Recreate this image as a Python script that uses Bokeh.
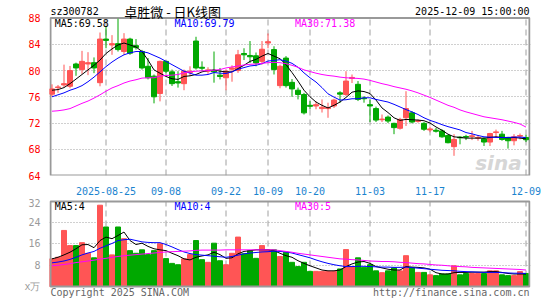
from bokeh.plotting import figure
from bokeh.layouts import column
from bokeh.models import FixedTicker, Label, ColumnDataSource, Range1d, Grid
from bokeh.embed import file_html
from bokeh.resources import INLINE

# ---------------- data ----------------
code = "sz300782"
title = "卓胜微 - 日K线图"
stamp = "2025-12-09 15:00:00"

tick_idx = [9, 19, 29, 36, 43, 53, 63, 79]
tick_labels = ["2025-08-25", "09-08", "09-22", "10-09", "10-20", "11-03", "11-17", "12-09"]
price_ticks = [64, 68, 72, 76, 80, 84, 88]
vol_ticks = [0, 8, 16, 24, 32]
vol_tick_labels = ["x万", "8", "16", "24", "32"]

opens = [76.4, 77.4, 77.8, 77.6, 81.0, 80.15, 81.0, 81.2, 78.15, 84.8,
         83.9, 84.1, 82.9, 84.8, 83.8, 82.9, 80.65, 79.15, 76.5, 81.4,
         79.8, 78.3, 78.0, 79.7, 84.5, 80.5, 79.9, 80.0, 79.3, 78.9,
         80.2, 80.0, 82.6, 82.3, 82.25, 81.4, 84.2, 83.2, 77.7, 81.9,
         78.2, 77.0, 76.35, 74.7, 74.6, 74.2, 74.2, 74.6, 76.6, 76.35,
         78.8, 77.9, 75.8, 74.8, 74.2, 72.5, 72.9, 71.95, 71.2, 72.8,
         73.55, 72.25, 71.95, 70.95, 70.9, 70.8, 70.1, 68.4, 69.85, 69.95,
         69.95, 69.7, 69.6, 69.1, 70.55, 70.3, 69.8, 69.3, 70.0, 69.8]
highs = [77.9, 77.8, 80.9, 80.7, 81.2, 83.0, 82.8, 82.0, 85.8, 86.8,
         85.4, 87.9, 85.7, 85.0, 84.8, 83.15, 81.9, 79.4, 81.5, 81.5,
         80.15, 79.9, 80.15, 80.65, 85.15, 81.4, 80.5, 82.9, 80.4, 80.15,
         80.8, 83.15, 83.4, 84.5, 82.75, 84.5, 85.65, 83.7, 80.9, 82.2,
         78.7, 77.4, 76.6, 75.35, 75.3, 75.6, 75.1, 75.7, 76.85, 79.9,
         79.4, 78.4, 76.1, 75.6, 74.5, 73.3, 73.15, 72.05, 72.8, 76.85,
         73.8, 72.55, 72.15, 71.45, 71.25, 71.05, 70.25, 70.3, 70.0, 70.2,
         70.8, 70.15, 69.8, 70.5, 71.0, 70.8, 69.9, 70.3, 70.4, 70.2]
lows = [76.0, 76.6, 77.5, 77.3, 79.2, 79.5, 79.3, 79.6, 77.6, 83.4,
        82.4, 82.9, 82.4, 82.4, 83.2, 80.15, 78.65, 75.0, 75.3, 79.6,
        77.65, 77.4, 77.0, 79.15, 80.15, 79.9, 79.5, 78.15, 78.65, 77.0,
        78.3, 79.65, 81.6, 81.15, 80.65, 80.9, 83.4, 79.4, 77.3, 77.4,
        76.0, 75.6, 73.3, 74.1, 74.1, 73.6, 72.8, 74.3, 75.1, 76.1,
        78.1, 75.35, 75.1, 72.15, 72.15, 72.15, 72.0, 70.3, 71.0, 71.55,
        71.95, 72.05, 70.8, 70.6, 70.55, 69.75, 68.9, 67.0, 68.75, 69.4,
        69.4, 69.3, 68.5, 68.5, 69.8, 69.3, 68.1, 68.6, 69.5, 69.1]
closes = [77.2, 77.5, 78.0, 80.0, 80.4, 81.4, 81.2, 80.4, 84.8, 84.6,
          84.1, 83.2, 84.8, 82.65, 83.5, 80.4, 78.9, 76.0, 81.4, 79.9,
          78.0, 78.1, 79.9, 79.9, 80.4, 80.35, 80.1, 79.8, 79.1, 79.9,
          80.4, 82.4, 82.4, 82.1, 81.15, 83.25, 84.4, 80.15, 80.65, 77.7,
          77.2, 76.35, 73.55, 74.55, 74.8, 74.4, 74.35, 75.5, 76.4, 78.4,
          78.95, 75.6, 75.7, 74.6, 72.45, 72.6, 72.3, 71.3, 72.55, 74.2,
          72.15, 72.35, 71.05, 71.1, 70.75, 69.9, 69.0, 69.5, 69.75, 69.85,
          70.05, 69.8, 69.1, 70.4, 70.65, 69.5, 69.3, 69.9, 70.1, 69.45]
volumes = [10.4, 11.0, 21.1, 15.4, 15.4, 16.5, 12.5, 10.8, 30.6, 22.4,
           11.9, 22.4, 18.0, 13.5, 12.5, 13.8, 12.0, 13.5, 16.1, 10.5,
           8.7, 8.2, 10.4, 12.0, 17.3, 10.1, 9.1, 16.3, 9.7, 8.2,
           12.5, 18.6, 12.3, 13.5, 10.6, 15.4, 13.8, 13.8, 11.3, 12.9,
           9.1, 7.5, 9.1, 5.7, 5.7, 5.7, 5.7, 5.7, 6.6, 13.9,
           7.5, 10.8, 7.2, 8.2, 5.9, 5.2, 5.9, 7.0, 5.9, 11.6,
           7.0, 5.3, 5.3, 4.4, 4.1, 4.7, 4.7, 7.8, 4.4, 4.9,
           4.9, 4.9, 4.9, 5.9, 5.9, 4.4, 4.1, 4.1, 5.6, 4.9]
ma5 = [77.0, 77.1, 77.4, 78.0, 78.7, 79.4, 80.1, 80.8, 81.6, 82.6,
       83.3, 83.9, 84.2, 83.9, 83.6, 82.9, 81.6, 80.1, 79.6, 79.1,
       78.75, 78.65, 79.1, 79.2, 79.4, 79.8, 80.0, 80.1, 79.9, 79.8,
       79.8, 80.3, 80.8, 81.4, 81.7, 82.2, 82.6, 82.2, 81.8, 80.9,
       79.7, 78.4, 77.0, 76.0, 75.2, 74.7, 74.3, 74.7, 75.2, 75.9,
       76.7, 76.9, 76.8, 76.5, 75.5, 74.3, 73.6, 72.8, 72.4, 72.55,
       72.5, 72.45, 72.35, 72.0, 71.4, 70.9, 70.3, 69.9, 69.8, 69.7,
       69.7, 69.7, 69.7, 69.8, 69.9, 69.8, 69.75, 69.8, 69.7, 69.58]
ma10 = [76.0, 76.3, 76.6, 77.0, 77.3, 77.7, 78.3, 79.0, 79.8, 80.6,
        81.3, 81.9, 82.4, 82.7, 82.9, 82.9, 82.7, 82.3, 81.9, 81.4,
        80.9, 80.4, 79.9, 79.6, 79.3, 79.3, 79.4, 79.7, 79.6, 79.55,
        79.8, 80.2, 80.45, 80.7, 80.8, 81.05, 81.45, 81.55, 81.65, 81.45,
        81.1, 80.5, 79.65, 78.9, 78.25, 77.4, 76.45, 75.95, 75.5, 75.55,
        75.7, 75.7, 75.85, 75.85, 75.6, 75.4, 75.2, 74.85, 74.45, 74.05,
        73.7, 73.3, 72.8, 72.4, 72.1, 71.75, 71.45, 71.2, 70.95, 70.55,
        70.35, 70.1, 69.9, 69.85, 69.8, 69.8, 69.8, 69.85, 69.85, 69.79]
ma30 = [73.8, 73.87, 74.0, 74.2, 74.6, 75.0, 75.35, 75.8, 76.3, 76.85,
        77.35, 77.7, 78.1, 78.4, 78.6, 78.85, 78.9, 78.9, 79.15, 79.25,
        79.3, 79.4, 79.65, 79.8, 79.9, 79.95, 80.0, 80.05, 80.15, 80.4,
        80.55, 80.7, 80.85, 80.95, 81.0, 81.1, 81.2, 81.25, 81.2, 81.05,
        80.8, 80.5, 80.1, 79.85, 79.6, 79.4, 79.25, 79.15, 79.0, 78.9,
        78.85, 78.8, 78.7, 78.5, 78.25, 78.0, 77.8, 77.55, 77.35, 77.15,
        76.9, 76.6, 76.25, 75.9, 75.5, 75.1, 74.7, 74.4, 74.0, 73.7,
        73.45, 73.2, 72.95, 72.8, 72.65, 72.5, 72.3, 72.1, 71.85, 71.38]
vol_ma5 = [10.4, 11.0, 11.9, 12.9, 14.2, 15.7, 15.8, 14.6, 17.3, 18.6,
           18.0, 19.2, 20.5, 17.3, 15.8, 16.3, 15.1, 14.2, 13.8, 13.5,
           12.5, 11.6, 10.4, 10.0, 11.0, 11.5, 11.9, 12.9, 12.0, 10.6,
           10.8, 12.3, 13.2, 13.5, 13.8, 13.8, 13.8, 13.5, 12.5, 11.6,
           11.0, 9.7, 8.7, 7.8, 7.0, 6.2, 5.9, 5.9, 6.2, 7.5,
           8.5, 9.2, 9.4, 8.7, 7.5, 7.0, 6.5, 6.2, 6.2, 7.5,
           7.3, 7.2, 7.0, 6.5, 5.2, 4.7, 4.7, 5.2, 5.3, 5.3,
           5.4, 5.4, 5.4, 5.6, 5.6, 5.3, 4.9, 4.7, 4.7, 4.7]
vol_ma10 = [8.9, 9.2, 9.6, 10.2, 11.0, 11.9, 12.6, 13.2, 14.4, 15.3,
            16.2, 17.3, 17.6, 17.8, 17.3, 16.8, 16.6, 16.5, 16.5, 15.8,
            14.9, 13.9, 13.0, 12.4, 12.0, 11.8, 11.6, 11.4, 11.2, 11.0,
            11.3, 11.8, 12.3, 12.6, 12.8, 13.0, 13.1, 13.3, 13.2, 13.0,
            12.6, 12.0, 11.4, 10.8, 10.0, 9.3, 8.7, 8.2, 7.8, 7.5,
            7.5, 7.6, 7.6, 7.5, 7.4, 7.3, 7.3, 7.2, 7.2, 7.3,
            7.1, 6.9, 6.7, 6.5, 6.3, 6.1, 6.0, 5.9, 5.7, 5.6,
            5.5, 5.4, 5.3, 5.3, 5.3, 5.2, 5.1, 5.0, 5.0, 4.9]
vol_ma30 = [7.8, 8.0, 8.3, 8.6, 9.0, 9.3, 9.6, 9.9, 10.3, 10.6,
            11.0, 11.3, 11.6, 11.8, 12.0, 12.2, 12.4, 12.6, 12.8, 13.0,
            13.1, 13.2, 13.3, 13.4, 13.6, 13.7, 13.7, 13.7, 13.7, 13.8,
            13.8, 13.8, 13.8, 13.8, 13.8, 13.8, 13.8, 13.8, 13.5, 13.2,
            12.9, 12.5, 12.2, 11.9, 11.6, 11.3, 11.0, 10.7, 10.4, 10.3,
            10.1, 10.0, 9.8, 9.6, 9.5, 9.4, 9.4, 9.3, 9.1, 9.0,
            8.8, 8.6, 8.5, 8.3, 8.1, 8.0, 7.8, 7.6, 7.5, 7.4,
            7.2, 7.1, 7.0, 6.9, 6.8, 6.7, 6.6, 6.5, 6.4, 6.2]
legend_main = ["MA5:69.58", "MA10:69.79", "MA30:71.38"]
legend_vol = ["MA5:4", "MA10:4", "MA30:5"]

# ---------------- styling ----------------
RED = "#ff5555"
GREEN = "#00a800"
LINE_COLORS = ["black", "#0000ff", "#ff00ff"]
MONO = "DejaVu Sans Mono"
GRID = "#a0a0a0"
FRAME = "#999999"

n = len(closes)
idx = list(range(n))
colors = [RED if c >= o else GREEN for o, c in zip(opens, closes)]
src = ColumnDataSource(dict(
    x=idx, o=opens, h=highs, l=lows, c=closes,
    top=[max(o, c) for o, c in zip(opens, closes)],
    bot=[min(o, c) for o, c in zip(opens, closes)],
    color=colors, vol=volumes,
    ma5=ma5, ma10=ma10, ma30=ma30,
    vma5=vol_ma5, vma10=vol_ma10, vma30=vol_ma30,
))

# one slot = 6 px, slot 0 centred at x = 51.5 px; frame spans 49..530 px
X0, X1 = -0.25, 79.58          # panel box edges (50 / 529 px)
xr = Range1d(-0.4167, 79.75)


def base(p):
    p.outline_line_color = None
    p.background_fill_color = "white"
    p.border_fill_color = "white"
    p.xgrid.visible = False
    p.ygrid.visible = False


def style_yaxis(ax, ticks, color, overrides=None):
    ax.ticker = FixedTicker(ticks=ticks)
    if overrides:
        ax.major_label_overrides = overrides
    ax.axis_line_color = None
    ax.major_tick_line_color = None
    ax.minor_tick_line_color = None
    ax.major_label_standoff = 3
    ax.major_label_text_color = color
    ax.major_label_text_font = MONO
    ax.major_label_text_font_size = "10px"


# ---------------- main panel (canvas y 0..197, box 17.8..177) ----------------
main = figure(width=545, height=197, x_range=xr, y_range=Range1d(64, 90.68),
              output_backend="svg", toolbar_location=None,
              min_border_left=49, min_border_right=15, min_border_top=0,
              min_border_bottom=20)
base(main)
main.add_layout(Grid(dimension=1, ticker=FixedTicker(ticks=price_ticks[1:-1]),
                     grid_line_color=GRID, grid_line_dash="1 2", grid_line_width=1))
main.segment(x0=tick_idx, y0=price_ticks[0], x1=tick_idx, y1=price_ticks[-1],
             line_color=GRID, line_dash="6 4", line_width=1)
main.quad(left=X0, right=X1, bottom=price_ticks[0], top=price_ticks[-1],
          fill_color=None, line_color=FRAME, line_width=2)

style_yaxis(main.yaxis[0], price_ticks, "#ff0000")

xa = main.xaxis[0]
xa.ticker = FixedTicker(ticks=tick_idx)
xa.major_label_overrides = {i: s for i, s in zip(tick_idx, tick_labels)}
xa.axis_line_color = None
xa.major_tick_line_color = None
xa.minor_tick_line_color = None
xa.major_label_standoff = 5
xa.major_label_text_color = "#1b84cf"
xa.major_label_text_font = MONO
xa.major_label_text_font_size = "10px"

main.segment(x0="x", y0="l", x1="x", y1="h", line_color="color", line_width=1, source=src)
main.vbar(x="x", width=5 / 6, top="top", bottom="bot", fill_color="color",
          line_color="color", line_width=1, source=src)
for key, col in zip(["ma5", "ma10", "ma30"], LINE_COLORS):
    main.line("x", key, line_color=col, line_width=1, source=src)

# watermark
main.add_layout(Label(x=74.4, y=65.9, text="sina", text_color="#d6d6d6",
                      text_font="DejaVu Sans", text_font_style="bold italic",
                      text_font_size="20px", text_align="center", text_baseline="middle"))

# legends inside panel
for xpos, txt, col in zip([0.45, 20.4, 40.5], legend_main, LINE_COLORS):
    main.add_layout(Label(x=xpos, y=87.15, text=txt, text_color=col, text_font=MONO,
                          text_font_size="10px", text_baseline="middle", text_align="left"))

# header line
main.add_layout(Label(x=X0, y=89.05, text=code, text_color="black", text_font=MONO,
                      text_font_size="10px", text_baseline="middle", text_align="left"))
main.add_layout(Label(x=20.1, y=89.05, text=title, text_color="black",
                      text_font="Noto Sans CJK SC", text_font_size="13px",
                      text_baseline="middle", text_align="center"))
main.add_layout(Label(x=X1, y=89.05, text=stamp, text_color="black", text_font=MONO,
                      text_font_size="10px", text_baseline="middle", text_align="right"))

# ---------------- volume panel (canvas y 197..300, box 201..286) ----------------
vol = figure(width=545, height=103, x_range=xr, y_range=Range1d(-5.27, 33.5),
             output_backend="svg", toolbar_location=None, x_axis_location=None,
             min_border_left=49, min_border_right=15, min_border_top=0,
             min_border_bottom=0)
base(vol)
vol.add_layout(Grid(dimension=1, ticker=FixedTicker(ticks=vol_ticks[1:-1]),
                    grid_line_color=GRID, grid_line_dash="1 2", grid_line_width=1))
vol.segment(x0=tick_idx, y0=vol_ticks[0], x1=tick_idx, y1=vol_ticks[-1],
            line_color=GRID, line_dash="6 4", line_width=1)

style_yaxis(vol.yaxis[0], vol_ticks, "#9a9a9a",
            {t: s for t, s in zip(vol_ticks, vol_tick_labels)})

vol.vbar(x="x", width=5 / 6, top="vol", bottom=0, fill_color="color",
         line_color="color", line_width=1, source=src)
for key, col in zip(["vma5", "vma10", "vma30"], LINE_COLORS):
    vol.line("x", key, line_color=col, line_width=1, source=src)
vol.quad(left=X0, right=X1, bottom=vol_ticks[0], top=vol_ticks[-1],
         fill_color=None, line_color=FRAME, line_width=2)

for xpos, txt, col in zip([0.45, 20.4, 40.5], legend_vol, LINE_COLORS):
    vol.add_layout(Label(x=xpos, y=30.1, text=txt, text_color=col, text_font=MONO,
                         text_font_size="10px", text_baseline="middle", text_align="left"))

vol.add_layout(Label(x=X0, y=-2.3, text="Copyright 2025 SINA.COM", text_color="#666666",
                     text_font=MONO, text_font_size="10px", text_baseline="middle",
                     text_align="left"))
vol.add_layout(Label(x=X1, y=-2.3, text="http://finance.sina.com.cn", text_color="#666666",
                     text_font=MONO, text_font_size="10px", text_baseline="middle",
                     text_align="right"))

layout = column(main, vol, spacing=0)
open("out.html", "w").write(file_html(layout, INLINE))
